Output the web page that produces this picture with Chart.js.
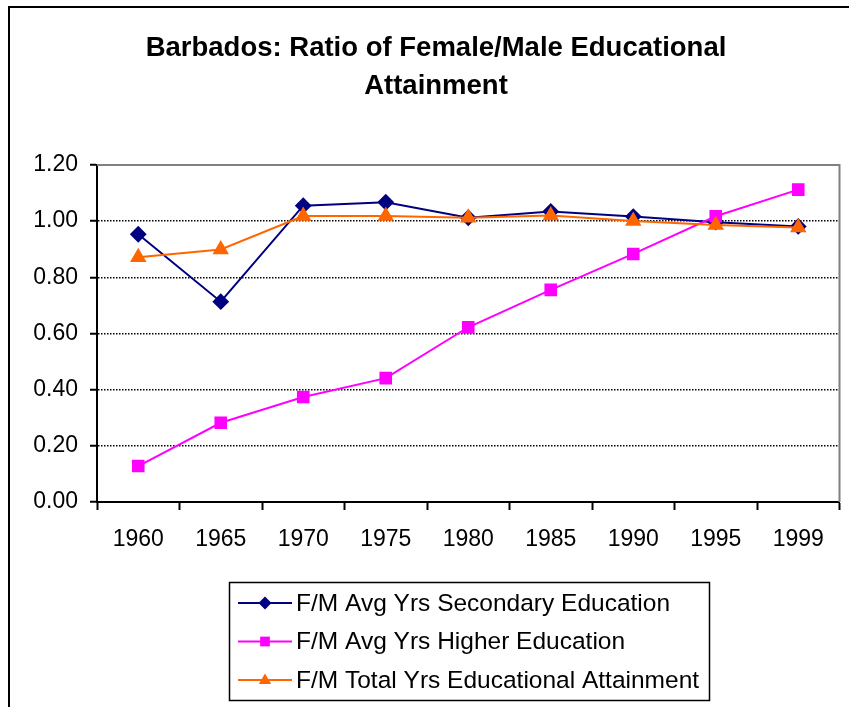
<!DOCTYPE html>
<html>
<head>
<meta charset="utf-8">
<script src="https://cdn.jsdelivr.net/npm/chart.js@4"></script>
<style>
  html, body { margin: 0; padding: 0; background: #fff; }
  #wrap { width: 849px; height: 707px; position: relative; }
</style>
</head>
<body>
<div id="wrap"><canvas id="chart"></canvas></div>
<script>
// data
var years = ["1960", "1965", "1970", "1975", "1980", "1985", "1990", "1995", "1999"];
var secondary = [0.953, 0.713, 1.055, 1.067, 1.012, 1.034, 1.016, 0.996, 0.981];
var higher = [0.128, 0.282, 0.374, 0.441, 0.622, 0.755, 0.883, 1.017, 1.112];
var total = [0.871, 0.899, 1.018, 1.018, 1.012, 1.020, 1.000, 0.986, 0.977];
var seriesNames = [
	"F/M Avg Yrs Secondary Education",
	"F/M Avg Yrs Higher Education",
	"F/M Total Yrs Educational Attainment"
];
var titleLines = ["Barbados: Ratio of Female/Male Educational", "Attainment"];

var FONT = "'Liberation Sans', Arial, sans-serif";

// little marker painter for the legend box
function marker(ctx, style, x, y, r, color) {
	ctx.save();
	ctx.fillStyle = color;
	ctx.beginPath();
	if (style == "rectRot") {
		ctx.moveTo(x, y - r); ctx.lineTo(x + r, y); ctx.lineTo(x, y + r); ctx.lineTo(x - r, y);
	} else if (style == "rect") {
		ctx.rect(x - r * 0.75, y - r * 0.75, r * 1.5, r * 1.5);
	} else {
		ctx.moveTo(x, y - r); ctx.lineTo(x + r * 0.95, y + r * 0.6); ctx.lineTo(x - r * 0.95, y + r * 0.6);
	}
	ctx.closePath();
	ctx.fill();
	ctx.restore();
}

var frame = {
	id: "frame",
	afterDraw: function (chart) {
		var ctx = chart.ctx;
		var a = chart.chartArea;
		ctx.save();
		// outer chart border (left + top)
		ctx.strokeStyle = "#000";
		ctx.lineWidth = 2;
		ctx.beginPath();
		ctx.moveTo(9, 707); ctx.lineTo(9, 7); ctx.lineTo(849, 7);
		ctx.stroke();
		// plot area top/right
		ctx.strokeStyle = "#808080";
		ctx.lineWidth = 2;
		ctx.beginPath();
		ctx.moveTo(a.left, a.top); ctx.lineTo(a.right, a.top); ctx.lineTo(a.right, a.bottom);
		ctx.stroke();

		// legend
		ctx.strokeStyle = "#000";
		ctx.lineWidth = 1.5;
		ctx.strokeRect(229.5, 582.5, 480, 118);
		ctx.font = "24.5px " + FONT;
		ctx.textBaseline = "middle";
		ctx.textAlign = "left";
		chart.data.datasets.forEach(function (ds, i) {
			var y = 603 + i * 38.5;
			ctx.strokeStyle = ds.borderColor;
			ctx.lineWidth = 2;
			ctx.beginPath();
			ctx.moveTo(238, y); ctx.lineTo(292, y);
			ctx.stroke();
			marker(ctx, ds.pointStyle, 265, y, 6.5, ds.pointBackgroundColor);
			ctx.fillStyle = "#000";
			ctx.fillText(ds.label, 296, y + 1);
		});
		ctx.restore();
	}
};

var ctx1 = document.getElementById("chart");

var chart1 = new Chart(ctx1, {
	type: "line",
	data: {
		labels: years,
		datasets: [
			{
				label: seriesNames[0],
				data: secondary,
				borderColor: "#000080",
				backgroundColor: "#000080",
				pointBackgroundColor: "#000080",
				pointBorderColor: "#000080",
				pointStyle: "rectRot",
				pointRadius: 7,
				borderWidth: 2,
				order: 3
			},
			{
				label: seriesNames[1],
				data: higher,
				borderColor: "#FF00FF",
				backgroundColor: "#FF00FF",
				pointBackgroundColor: "#FF00FF",
				pointBorderColor: "#FF00FF",
				pointStyle: "rect",
				pointRadius: 7.5,
				borderWidth: 2,
				order: 2
			},
			{
				label: seriesNames[2],
				data: total,
				borderColor: "#FF6600",
				backgroundColor: "#FF6600",
				pointBackgroundColor: "#FF6600",
				pointBorderColor: "#FF6600",
				pointStyle: "triangle",
				pointRadius: 7.5,
				borderWidth: 2,
				order: 1
			}
		]
	},
	options: {
		responsive: true,
		maintainAspectRatio: false,
		animation: false,
		layout: { padding: { left: 30, right: 7, top: 0, bottom: 155 } },
		plugins: {
			legend: { display: false },
			tooltip: { enabled: false },
			title: {
				display: true,
				text: titleLines,
				color: "#000",
				font: { family: FONT, size: 27.5, weight: "bold", lineHeight: 1.38 },
				padding: { top: 29, bottom: 60 }
			}
		},
		scales: {
			x: {
				offset: true,
				ticks: { color: "#000", font: { family: FONT, size: 23 }, padding: 16, maxRotation: 0, autoSkip: false },
				grid: { offset: true, drawOnChartArea: false, tickLength: 8, tickColor: "#000", tickWidth: 2 },
				border: { color: "#000", width: 2 },
				afterFit: function (s) { s.height = 50; }
			},
			y: {
				min: 0,
				max: 1.2,
				ticks: {
					stepSize: 0.2,
					color: "#000",
					font: { family: FONT, size: 23 },
					padding: 12,
					callback: function (v) { return Number(v).toFixed(2); }
				},
				grid: {
					color: function (c) {
						var v = c.tick ? c.tick.value : 0;
						return (v < 0.01 || v > 1.19) ? "rgba(0,0,0,0)" : "#000";
					},
					lineWidth: 1.5,
					tickLength: 7,
					tickColor: "#000",
					tickWidth: 2
				},
				border: { color: "#000", width: 2, dash: [1.5, 1.5] },
				afterFit: function (s) { s.width = 67; }
			}
		}
	},
	plugins: [frame]
});
</script>
</body>
</html>
